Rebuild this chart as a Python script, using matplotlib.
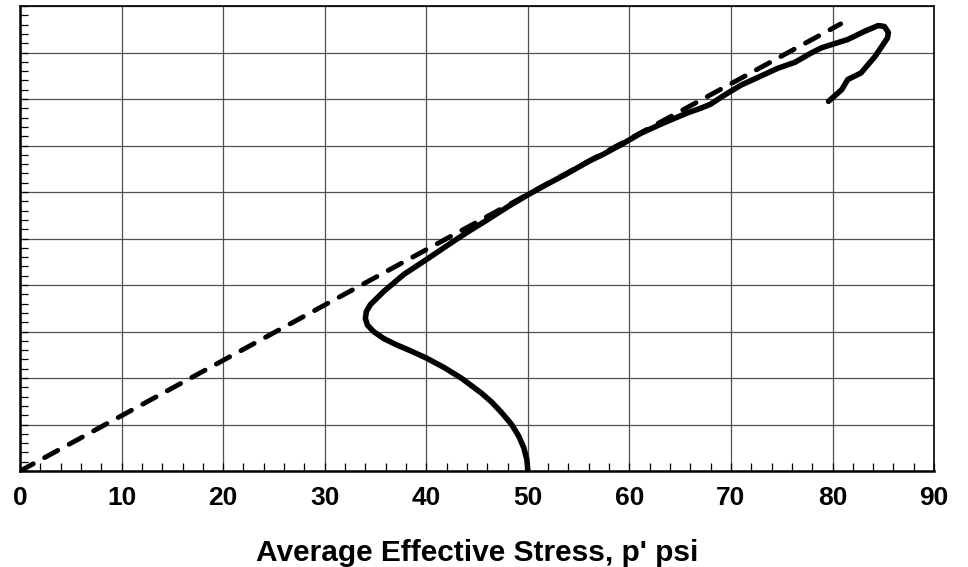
import matplotlib
matplotlib.use("Agg")
import matplotlib.pyplot as plt
from matplotlib.ticker import MultipleLocator, NullFormatter

plt.rcParams['font.family'] = ['Liberation Sans', 'DejaVu Sans']

# stress path: average effective stress p' vs deviator-type ordinate q
p_path = [50.0, 49.9, 49.6, 49.1, 48.4, 47.4, 46.4, 45.4, 43.5, 41.8, 40.0, 38.4,
          37.0, 35.8, 34.8, 34.2, 34.0, 34.1, 34.5, 35.8, 37.8, 40.1, 42.4, 44.0,
          46.0, 48.0, 50.0, 52.0, 53.9, 56.0, 57.5, 59.2, 61.1, 63.1, 65.7, 67.0,
          68.0, 69.4, 71.0, 73.0, 74.6, 76.3, 77.9, 78.9, 79.9, 81.5, 83.2, 84.5,
          85.1, 85.5, 85.4, 84.2, 82.8, 81.5, 80.9, 79.6]
q_path = [0.0, 2.5, 5.0, 7.5, 10.0, 12.6, 14.9, 16.8, 19.9, 22.2, 24.3, 25.9,
          27.2, 28.5, 30.0, 31.4, 32.8, 34.3, 35.8, 38.6, 42.3, 45.6, 49.0, 51.3,
          54.0, 56.8, 59.4, 61.8, 64.0, 66.6, 68.2, 70.2, 72.6, 74.6, 77.0, 78.0,
          78.9, 80.9, 83.0, 85.0, 86.6, 87.9, 89.9, 91.0, 91.7, 92.8, 94.6, 95.8,
          95.6, 94.3, 93.1, 89.2, 85.6, 84.2, 82.0, 79.5]

# failure envelope through the origin
env_p = [0.0, 80.8]
env_slope = 1.19
env_q = [env_slope * v for v in env_p]

fig = plt.figure(figsize=(9.68, 5.67), dpi=100)
ax = fig.add_axes([0.0207, 0.1693, 0.9443, 0.8201])

ax.plot(p_path, q_path, color='black', lw=4.0, solid_joinstyle='round',
        solid_capstyle='round', zorder=3)
ax.plot(env_p, env_q, color='black', lw=3.5, ls=(0, (3.1, 2.65)),
        dash_capstyle='round', zorder=3)

ax.set_xlim(0, 90)
ax.set_ylim(0, 100)
ax.xaxis.set_major_locator(MultipleLocator(10))
ax.xaxis.set_minor_locator(MultipleLocator(2))
ax.yaxis.set_major_locator(MultipleLocator(10))
ax.yaxis.set_minor_locator(MultipleLocator(2))
ax.yaxis.set_major_formatter(NullFormatter())

ax.grid(True, which='major', color='#505050', lw=0.9)
ax.set_axisbelow(True)
ax.tick_params(which='both', direction='in', top=False, right=False,
               color='black', width=0.9)
ax.tick_params(which='major', length=6)
ax.tick_params(which='minor', length=6)
ax.tick_params(axis='x', pad=11, labelsize=19)
for lbl in ax.get_xticklabels():
    lbl.set_fontweight('bold')

for side in ['left', 'bottom']:
    ax.spines[side].set_linewidth(1.8)
for side in ['right', 'top']:
    ax.spines[side].set_linewidth(1.2)

ax.set_xlabel("Average Effective Stress, p' psi", fontsize=21.5, fontweight='bold',
              labelpad=21)

fig.savefig('out.png', dpi=100)
